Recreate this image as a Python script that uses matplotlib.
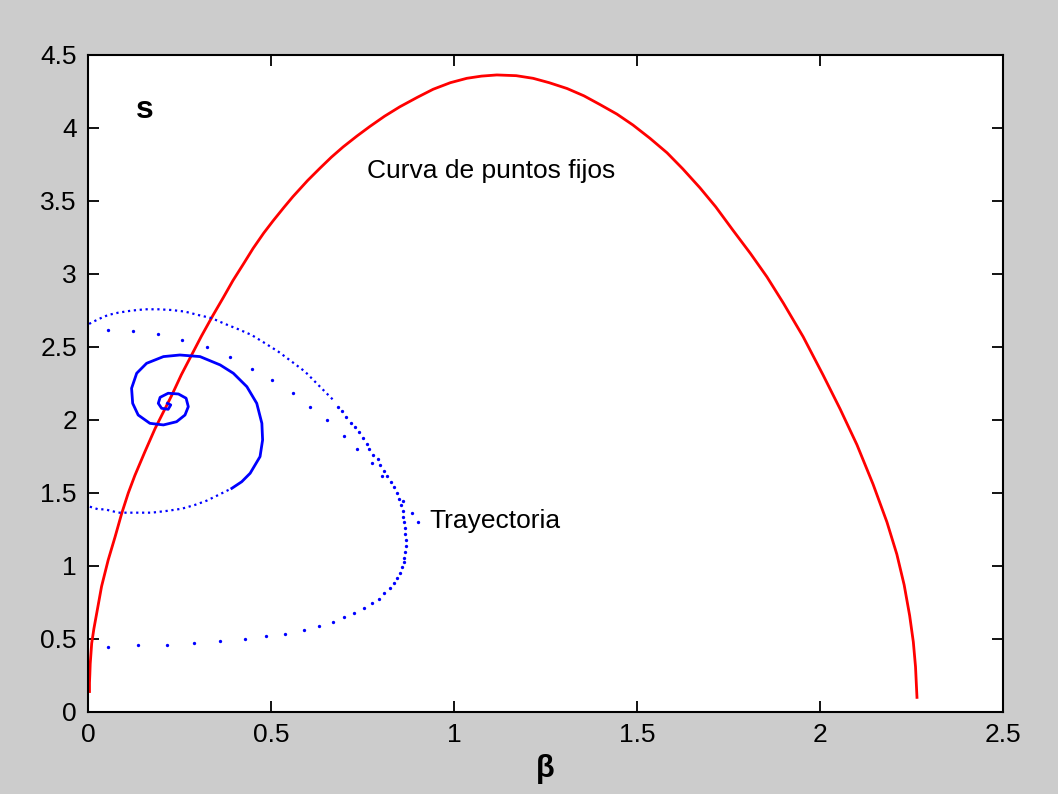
import matplotlib
matplotlib.use("Agg")
import matplotlib.pyplot as plt

# curva de puntos fijos (beta, s)
fix_b = [0.004, 0.004, 0.005, 0.006, 0.008, 0.010, 0.016, 0.024, 0.037, 0.055,
         0.074, 0.092, 0.110, 0.128, 0.155, 0.183, 0.205, 0.229, 0.255, 0.283,
         0.310, 0.341, 0.370, 0.396, 0.425, 0.451, 0.480, 0.506, 0.535, 0.560,
         0.600, 0.634, 0.665, 0.697, 0.735, 0.770, 0.810, 0.852, 0.900, 0.943,
         0.990, 1.035, 1.075, 1.117, 1.170, 1.216, 1.260, 1.309, 1.355, 1.399,
         1.445, 1.489, 1.535, 1.582, 1.625, 1.672, 1.715, 1.762, 1.810, 1.855,
         1.900, 1.954, 2.008, 2.055, 2.101, 2.145, 2.183, 2.210, 2.230, 2.245,
         2.255, 2.261, 2.265]
fix_s = [0.14, 0.20, 0.26, 0.33, 0.40, 0.47, 0.57, 0.68, 0.86, 1.04,
         1.20, 1.36, 1.50, 1.62, 1.78, 1.94, 2.05, 2.17, 2.31, 2.445,
         2.575, 2.715, 2.84, 2.955, 3.07, 3.175, 3.28, 3.365, 3.455, 3.53,
         3.64, 3.725, 3.80, 3.87, 3.945, 4.01, 4.08, 4.145, 4.21, 4.265,
         4.31, 4.34, 4.355, 4.363, 4.358, 4.34, 4.31, 4.27, 4.22, 4.16,
         4.095, 4.02, 3.93, 3.83, 3.72, 3.59, 3.46, 3.30, 3.14, 2.98,
         2.80, 2.57, 2.31, 2.075, 1.83, 1.56, 1.30, 1.08, 0.87, 0.66,
         0.48, 0.31, 0.10]

# trayectoria: arco superior (puntos densos)
arc_b = [0.003, 0.028, 0.055, 0.083, 0.119, 0.156, 0.192, 0.229, 0.265, 0.301,
         0.338, 0.374, 0.411, 0.447, 0.484, 0.520, 0.557, 0.593, 0.629, 0.670]
arc_s = [2.658, 2.690, 2.719, 2.735, 2.749, 2.758, 2.758, 2.753, 2.742, 2.719,
         2.697, 2.658, 2.621, 2.582, 2.525, 2.468, 2.399, 2.331, 2.240, 2.137]

# trayectoria: lado derecho y parte inferior (puntos sueltos)
loop_b = [0.682, 0.693, 0.705, 0.718, 0.730, 0.740, 0.752, 0.763, 0.769, 0.780,
          0.792, 0.798, 0.809, 0.816, 0.827, 0.837, 0.843, 0.850, 0.855, 0.860,
          0.861, 0.864, 0.866, 0.866, 0.868, 0.868, 0.866, 0.864, 0.863, 0.857,
          0.852, 0.843, 0.836, 0.825, 0.809, 0.795, 0.775, 0.755, 0.728, 0.700,
          0.670, 0.631, 0.590, 0.538, 0.486, 0.429, 0.361, 0.290, 0.217, 0.136,
          0.055]
loop_s = [2.087, 2.062, 2.023, 1.982, 1.955, 1.916, 1.879, 1.836, 1.801, 1.760,
          1.733, 1.692, 1.653, 1.616, 1.577, 1.539, 1.498, 1.457, 1.418, 1.379,
          1.338, 1.299, 1.258, 1.219, 1.178, 1.139, 1.098, 1.057, 1.025, 0.991,
          0.954, 0.916, 0.882, 0.851, 0.813, 0.774, 0.745, 0.710, 0.680, 0.653,
          0.614, 0.589, 0.562, 0.536, 0.523, 0.498, 0.484, 0.471, 0.459, 0.459,
          0.445]

# trayectoria: diagonal rapida
diag_b = [0.055, 0.124, 0.192, 0.256, 0.324, 0.388, 0.447, 0.504, 0.561, 0.607,
          0.653, 0.699, 0.734, 0.775, 0.802, 0.860, 0.884, 0.901]
diag_s = [2.616, 2.612, 2.589, 2.548, 2.497, 2.429, 2.349, 2.272, 2.182, 2.087,
          1.997, 1.890, 1.799, 1.708, 1.616, 1.445, 1.365, 1.299]

# espiral: tramo inferior punteado
low_b = [0.005, 0.028, 0.046, 0.083, 0.128, 0.174, 0.215, 0.256, 0.292, 0.324,
         0.356, 0.393]
low_s = [1.406, 1.388, 1.388, 1.365, 1.365, 1.365, 1.377, 1.392, 1.418, 1.447,
         1.486, 1.532]

# espiral hacia el foco
spi_b = [0.393, 0.420, 0.443, 0.470, 0.477, 0.475, 0.461, 0.434, 0.397, 0.361,
         0.306, 0.251, 0.206, 0.160, 0.133, 0.119, 0.122, 0.137, 0.169, 0.206,
         0.242, 0.265, 0.274, 0.268, 0.247, 0.219, 0.197, 0.192, 0.201, 0.219,
         0.226, 0.217]
spi_s = [1.532, 1.577, 1.635, 1.749, 1.863, 1.977, 2.114, 2.228, 2.320, 2.377,
         2.434, 2.445, 2.434, 2.388, 2.320, 2.217, 2.114, 2.034, 1.977, 1.966,
         1.988, 2.034, 2.091, 2.149, 2.178, 2.183, 2.155, 2.114, 2.080, 2.073,
         2.103, 2.114]

xticks = [0, 0.5, 1, 1.5, 2, 2.5]
yticks = [0, 0.5, 1, 1.5, 2, 2.5, 3, 3.5, 4, 4.5]

plt.rcParams['font.family'] = ['Liberation Sans', 'DejaVu Sans']

fig = plt.figure(figsize=(10.58, 7.94), dpi=100, facecolor='#cccccc')
ax = fig.add_axes([0.0832, 0.1033, 0.8648, 0.8275])
ax.set_facecolor('white')

blue = '#0000ff'
ax.plot(fix_b, fix_s, color='#ff0000', lw=2.0)
ax.plot(arc_b, arc_s, color=blue, lw=1.6, ls=':')
ax.plot(loop_b, loop_s, 'o', color=blue, ms=2.4, mew=0)
ax.plot(diag_b, diag_s, 'o', color=blue, ms=2.4, mew=0)
ax.plot(low_b, low_s, color=blue, lw=1.6, ls=':')
ax.plot(spi_b, spi_s, color=blue, lw=2.0)

ax.text(0.156, 4.12, 's', fontsize=23, fontweight='bold', ha='center', va='center')
ax.text(0.762, 3.705, 'Curva de puntos fijos', fontsize=19, ha='left', va='center')
ax.text(0.934, 1.308, 'Trayectoria', fontsize=19, ha='left', va='center')

ax.set_xlim(0, 2.5)
ax.set_ylim(0, 4.5)
ax.set_xticks(xticks)
ax.set_yticks(yticks)
ax.set_xticklabels(['%g' % v for v in xticks])
ax.set_yticklabels(['%g' % v for v in yticks])
ax.tick_params(direction='in', length=8, width=1.3, labelsize=19,
               top=True, right=True, pad=8)
for sp in ax.spines.values():
    sp.set_linewidth(1.5)
ax.set_xlabel('β', fontsize=22, fontweight='bold', labelpad=5)

fig.savefig('out.png', dpi=100, facecolor=fig.get_facecolor())
